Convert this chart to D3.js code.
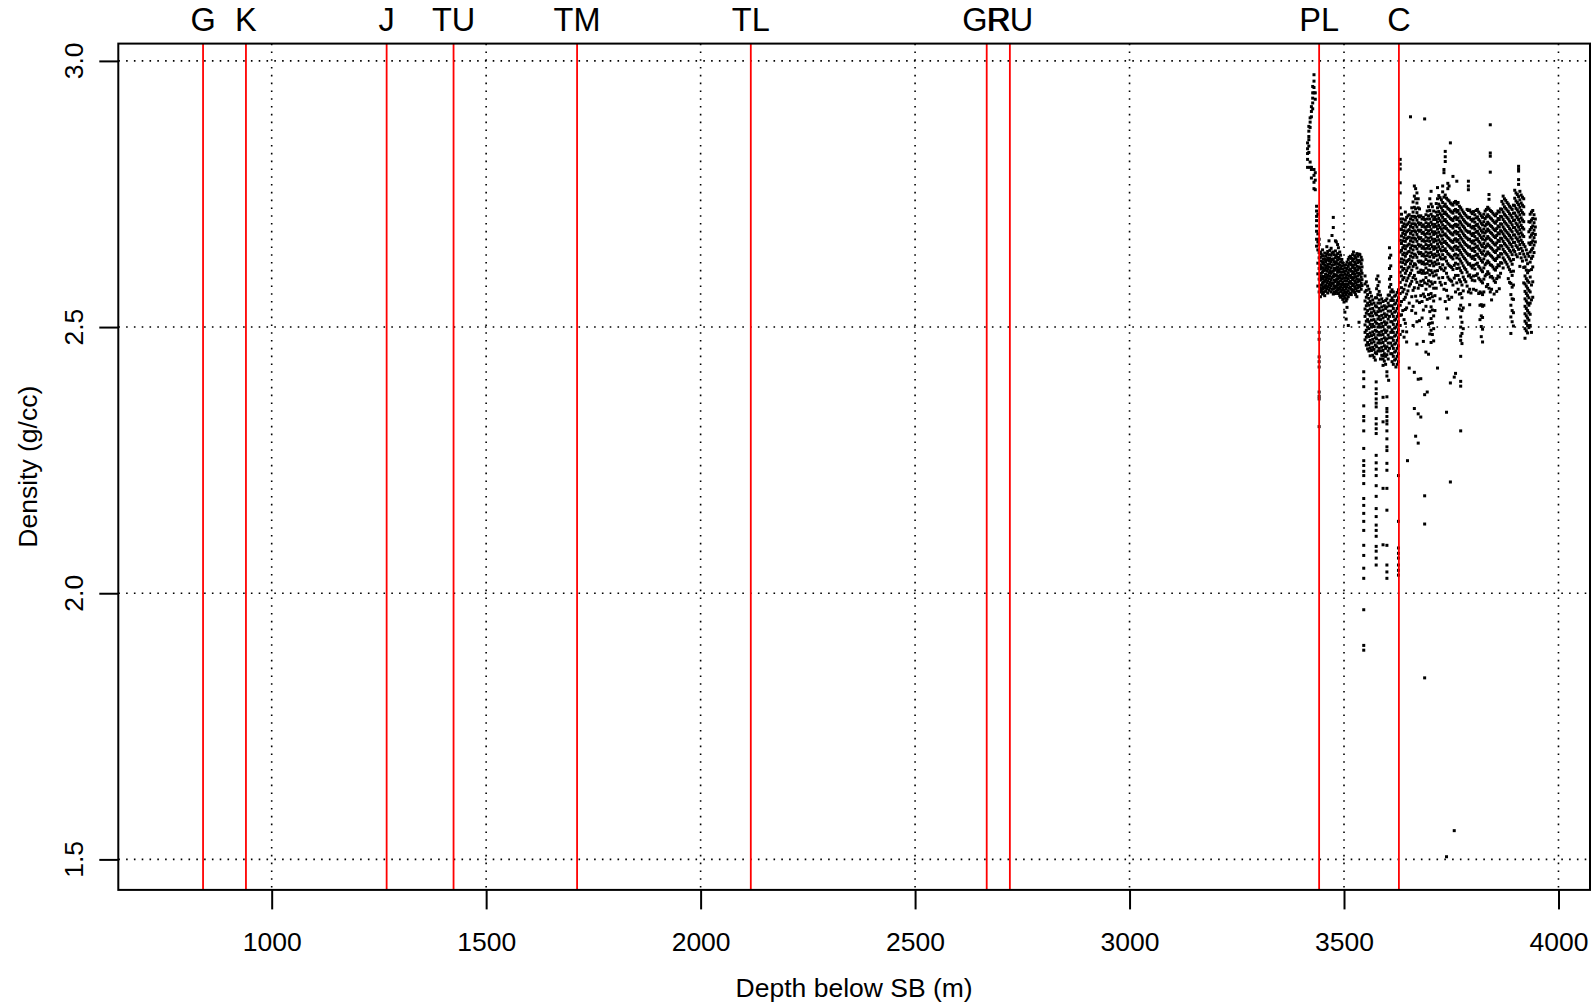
<!DOCTYPE html>
<html><head><meta charset="utf-8">
<script src="https://cdn.jsdelivr.net/npm/d3@7"></script>
<style>html,body{margin:0;padding:0;background:#fff}svg{display:block}text{font-family:"Liberation Sans",Arial,Helvetica,sans-serif;fill:#000}</style>
</head><body><svg id="chart" width="1591" height="1007"></svg>
<script>
// Formation tops (depth below SB, m)
const tops = ["G","K","J","TU","TM","TL","GR","RU","PL","C"];
const topDepths = [840, 940, 1268, 1424, 1712, 2117, 2667, 2721, 3442, 3628];
const xTicks = [1000,1500,2000,2500,3000,3500,4000];
const yTicks = [1.5,2.0,2.5,3.0];
const xLabel = "Depth below SB (m)";
const yLabel = "Density (g/cc)";

// Density log samples: each row = [depth, density, density, ...]
const plUpper = [
 [3415, 2.846, 2.835, 2.826, 2.815, 2.80],
 [3418, 2.877, 2.868, 2.858, 2.852, 2.84, 2.828],
 [3421, 2.893, 2.885, 2.875, 2.81, 2.80],
 [3424, 2.914, 2.905, 2.895, 2.80, 2.796, 2.78],
 [3427, 2.952, 2.94, 2.93, 2.921, 2.91],
 [3430, 2.974, 2.962, 2.95, 2.94, 2.796, 2.785, 2.772, 2.76],
 [3433, 2.94, 2.928, 2.79, 2.776, 2.758],
 [3436, 2.727, 2.718, 2.708, 2.70, 2.69, 2.68, 2.665, 2.652],
 [3439, 2.712, 2.675, 2.66, 2.645, 2.62, 2.60, 2.577],
 [3442, 2.665, 2.655, 2.64, 2.63, 2.61, 2.59, 2.566, 2.49, 2.477, 2.444, 2.435, 2.425, 2.378, 2.37, 2.365, 2.313]
];
const plBand = [
 [3445, 2.641, 2.631, 2.617, 2.609, 2.596, 2.588, 2.574, 2.566, 2.557],
 [3447, 2.637, 2.624, 2.613, 2.601, 2.592, 2.579, 2.569],
 [3450, 2.645, 2.634, 2.622, 2.611, 2.603, 2.59, 2.582, 2.571, 2.562],
 [3452, 2.628, 2.619, 2.606, 2.595, 2.584, 2.576, 2.565],
 [3455, 2.639, 2.627, 2.616, 2.607, 2.594, 2.586, 2.573, 2.559],
 [3457, 2.633, 2.622, 2.611, 2.599, 2.589, 2.578, 2.567],
 [3460, 2.651, 2.637, 2.626, 2.614, 2.605, 2.593, 2.583, 2.572],
 [3462, 2.642, 2.63, 2.618, 2.609, 2.597, 2.587, 2.576, 2.564],
 [3465, 2.662, 2.636, 2.625, 2.613, 2.602, 2.591, 2.58, 2.569],
 [3467, 2.644, 2.629, 2.619, 2.606, 2.596, 2.584, 2.574],
 [3470, 2.648, 2.635, 2.623, 2.611, 2.601, 2.589, 2.578, 2.566],
 [3472, 2.672, 2.639, 2.627, 2.616, 2.604, 2.593, 2.583, 2.571],
 [3475, 2.706, 2.687, 2.641, 2.628, 2.617, 2.605, 2.595, 2.582, 2.572, 2.562],
 [3477, 2.636, 2.623, 2.61, 2.599, 2.588, 2.577, 2.566],
 [3480, 2.662, 2.643, 2.63, 2.618, 2.607, 2.596, 2.585, 2.573, 2.563],
 [3482, 2.66, 2.634, 2.622, 2.611, 2.598, 2.589, 2.577, 2.567],
 [3485, 2.655, 2.638, 2.626, 2.613, 2.603, 2.591, 2.58, 2.569],
 [3487, 2.649, 2.631, 2.619, 2.608, 2.596, 2.585, 2.574, 2.563],
 [3490, 2.641, 2.628, 2.616, 2.604, 2.593, 2.581, 2.571, 2.559],
 [3492, 2.635, 2.622, 2.61, 2.598, 2.587, 2.576, 2.566, 2.556],
 [3495, 2.627, 2.615, 2.603, 2.591, 2.58, 2.569, 2.558],
 [3497, 2.621, 2.609, 2.597, 2.585, 2.574, 2.563, 2.552],
 [3500, 2.616, 2.604, 2.592, 2.58, 2.569, 2.558, 2.547],
 [3502, 2.611, 2.599, 2.587, 2.576, 2.565, 2.554, 2.528],
 [3505, 2.617, 2.605, 2.593, 2.581, 2.571, 2.56, 2.549, 2.515],
 [3507, 2.622, 2.61, 2.598, 2.587, 2.576, 2.565, 2.553, 2.537],
 [3510, 2.627, 2.614, 2.602, 2.591, 2.58, 2.568, 2.557, 2.503],
 [3512, 2.631, 2.619, 2.607, 2.596, 2.584, 2.573, 2.562],
 [3515, 2.633, 2.621, 2.609, 2.597, 2.586, 2.575, 2.564],
 [3517, 2.629, 2.617, 2.605, 2.593, 2.582, 2.571, 2.561],
 [3520, 2.636, 2.624, 2.612, 2.60, 2.589, 2.578, 2.567],
 [3522, 2.641, 2.628, 2.616, 2.604, 2.593, 2.581, 2.57],
 [3525, 2.634, 2.622, 2.61, 2.599, 2.587, 2.576, 2.565],
 [3527, 2.63, 2.618, 2.606, 2.594, 2.583, 2.572, 2.561],
 [3530, 2.638, 2.626, 2.614, 2.602, 2.59, 2.579, 2.568, 2.557],
 [3532, 2.633, 2.621, 2.608, 2.596, 2.585, 2.574],
 [3535, 2.637, 2.625, 2.613, 2.601, 2.589, 2.578, 2.567, 2.509],
 [3537, 2.636, 2.623, 2.611, 2.599, 2.587, 2.576],
 [3540, 2.631, 2.619, 2.606, 2.594, 2.582, 2.571],
 [3542, 2.626, 2.613, 2.601, 2.589, 2.578]
];
const cBand = [
 [3549, 2.596, 2.581, 2.566, 2.549, 2.534, 2.52, 2.504, 2.49, 2.476],
 [3552, 2.585, 2.569, 2.556, 2.54, 2.526, 2.511, 2.494, 2.481, 2.466],
 [3555, 2.577, 2.561, 2.545, 2.531, 2.514, 2.50, 2.486, 2.471, 2.459],
 [3558, 2.571, 2.554, 2.541, 2.524, 2.51, 2.497, 2.482, 2.467, 2.455],
 [3561, 2.565, 2.548, 2.534, 2.521, 2.505, 2.489, 2.475, 2.461, 2.446],
 [3564, 2.558, 2.543, 2.527, 2.513, 2.50, 2.484, 2.47, 2.456],
 [3567, 2.551, 2.535, 2.521, 2.505, 2.491, 2.477, 2.462, 2.447],
 [3570, 2.545, 2.53, 2.514, 2.501, 2.486, 2.472, 2.458, 2.443],
 [3573, 2.555, 2.54, 2.526, 2.51, 2.494, 2.48, 2.466, 2.452, 2.438],
 [3576, 2.59, 2.572, 2.555, 2.538, 2.523, 2.507, 2.492, 2.478, 2.463, 2.45],
 [3579, 2.596, 2.578, 2.561, 2.545, 2.529, 2.515, 2.50, 2.485, 2.47, 2.455],
 [3582, 2.585, 2.567, 2.551, 2.535, 2.52, 2.505, 2.49, 2.475, 2.46],
 [3585, 2.56, 2.545, 2.53, 2.514, 2.50, 2.485, 2.47, 2.455, 2.44],
 [3588, 2.553, 2.538, 2.522, 2.507, 2.492, 2.477, 2.462, 2.447],
 [3591, 2.548, 2.532, 2.517, 2.501, 2.486, 2.471, 2.456, 2.44],
 [3594, 2.54, 2.525, 2.51, 2.495, 2.48, 2.465, 2.45, 2.436],
 [3597, 2.55, 2.535, 2.52, 2.505, 2.49, 2.475, 2.46, 2.445, 2.43],
 [3600, 2.553, 2.538, 2.523, 2.508, 2.493, 2.478, 2.463, 2.448],
 [3603, 2.56, 2.545, 2.53, 2.515, 2.50, 2.485, 2.47, 2.455, 2.44],
 [3606, 2.649, 2.63, 2.61, 2.59, 2.575, 2.56, 2.54, 2.52, 2.50, 2.48, 2.46],
 [3609, 2.635, 2.615, 2.595, 2.58, 2.566, 2.55, 2.53, 2.51, 2.49, 2.47, 2.45],
 [3612, 2.57, 2.555, 2.54, 2.525, 2.51, 2.495, 2.48, 2.465, 2.45, 2.435],
 [3615, 2.566, 2.55, 2.535, 2.52, 2.505, 2.49, 2.475, 2.46, 2.445, 2.43],
 [3618, 2.558, 2.543, 2.528, 2.513, 2.498, 2.483, 2.468, 2.453, 2.438],
 [3621, 2.56, 2.545, 2.53, 2.515, 2.50, 2.485, 2.47, 2.455, 2.44, 2.425],
 [3624, 2.565, 2.55, 2.535, 2.52, 2.505, 2.49, 2.475, 2.46, 2.445, 2.43],
 [3627, 2.57, 2.555, 2.54, 2.525, 2.51, 2.495, 2.48, 2.465, 2.45, 2.435]
];
const lowTails = [
 [3546, 2.416, 2.403, 2.388, 2.352, 2.332, 2.324, 2.305, 2.272, 2.249, 2.24, 2.229, 2.221, 2.206, 2.178, 2.165, 2.15, 2.135, 2.118, 2.09, 2.071, 2.047, 2.028, 1.969, 1.902, 1.893],
 [3575, 2.397, 2.384, 2.375, 2.365, 2.357, 2.35, 2.328, 2.318, 2.309, 2.30, 2.259, 2.245, 2.233, 2.221, 2.202, 2.182, 2.159, 2.144, 2.128, 2.118, 2.107, 2.088, 2.079, 2.066, 2.053],
 [3600, 2.416, 2.408, 2.369, 2.347, 2.341, 2.332, 2.324, 2.318, 2.305, 2.29, 2.275, 2.268, 2.244, 2.231, 2.197, 2.156, 2.09, 2.053, 2.04, 2.028],
 [3627, 2.221, 2.135, 2.085, 2.075, 2.066, 2.053, 2.043, 2.034],
 [3591, 2.446, 2.428, 2.368, 2.322, 2.197, 2.091],
 [3604, 2.40]
];
const postCA = [
 [3631, 2.815, 2.806, 2.797, 2.771, 2.752, 2.724, 2.703, 2.684, 2.663, 2.641, 2.622, 2.603, 2.584, 2.563, 2.541, 2.522, 2.503, 2.486],
 [3634, 2.712, 2.697, 2.683, 2.671, 2.657, 2.644, 2.628, 2.613, 2.596, 2.574, 2.548, 2.523],
 [3637, 2.703, 2.689, 2.676, 2.662, 2.649, 2.636, 2.621, 2.607, 2.589, 2.566, 2.531, 2.492],
 [3640, 2.694, 2.681, 2.668, 2.653, 2.639, 2.626, 2.61, 2.593, 2.571, 2.552, 2.514, 2.481],
 [3643, 2.716, 2.701, 2.688, 2.674, 2.661, 2.647, 2.633, 2.618, 2.601, 2.579, 2.556, 2.533, 2.507],
 [3646, 2.706, 2.692, 2.679, 2.666, 2.652, 2.638, 2.623, 2.606, 2.587, 2.562, 2.536, 2.491, 2.472],
 [3648, 2.249],
 [3649, 2.709, 2.694, 2.681, 2.668, 2.654, 2.641, 2.625, 2.611, 2.592, 2.568],
 [3652, 2.711, 2.697, 2.683, 2.669, 2.656, 2.642, 2.627, 2.613, 2.597, 2.577, 2.545, 2.423],
 [3655, 2.895, 2.703, 2.689, 2.676, 2.662, 2.648, 2.633, 2.619, 2.601, 2.581],
 [3658, 2.724, 2.708, 2.694, 2.68, 2.667, 2.653, 2.639, 2.624, 2.607, 2.586, 2.557, 2.531],
 [3661, 2.735, 2.716, 2.701, 2.687, 2.673, 2.66, 2.645, 2.631, 2.614, 2.593, 2.569, 2.539, 2.503],
 [3664, 2.765, 2.746, 2.725, 2.708, 2.694, 2.681, 2.667, 2.652, 2.637, 2.619, 2.597, 2.574, 2.415, 2.347],
 [3667, 2.76, 2.741, 2.722, 2.706, 2.692, 2.679, 2.665, 2.651, 2.635, 2.617, 2.59, 2.558, 2.526, 2.295],
 [3670, 2.752, 2.733, 2.715, 2.701, 2.688, 2.674, 2.661, 2.647, 2.631, 2.611, 2.584, 2.549, 2.51, 2.468],
 [3673, 2.741, 2.724, 2.709, 2.696, 2.682, 2.669, 2.655, 2.641, 2.624, 2.603, 2.573, 2.402, 2.337, 2.282],
 [3676, 2.722, 2.707, 2.693, 2.68, 2.666, 2.652, 2.638, 2.622, 2.603, 2.579, 2.546, 2.512],
 [3679, 2.709, 2.695, 2.682, 2.668, 2.654, 2.64, 2.624, 2.607, 2.586, 2.559, 2.403, 2.331],
 [3682, 2.703, 2.689, 2.676, 2.662, 2.648, 2.634, 2.619, 2.601, 2.578, 2.548, 2.517],
 [3685, 2.706, 2.692, 2.678, 2.664, 2.651, 2.637, 2.622, 2.606, 2.588, 2.562, 2.532, 2.473],
 [3688, 2.891, 2.702, 2.688, 2.674, 2.661, 2.647, 2.633, 2.618, 2.601, 2.583, 2.557, 2.373, 2.183, 2.13, 1.841],
 [3691, 2.711, 2.696, 2.683, 2.669, 2.655, 2.641, 2.627, 2.611, 2.593, 2.571, 2.539, 2.453],
 [3694, 2.718, 2.703, 2.689, 2.676, 2.662, 2.648, 2.634, 2.619, 2.602, 2.581, 2.552, 2.378],
 [3697, 2.726, 2.709, 2.694, 2.681, 2.667, 2.653, 2.639, 2.624, 2.607, 2.587, 2.561, 2.505, 2.449],
 [3700, 2.741, 2.719, 2.703, 2.689, 2.675, 2.661, 2.647, 2.632, 2.616, 2.598, 2.577, 2.554, 2.529, 2.507, 2.487],
 [3703, 2.755, 2.731, 2.712, 2.697, 2.683, 2.669, 2.655, 2.64, 2.624, 2.606, 2.585, 2.563, 2.538, 2.516, 2.494, 2.471],
 [3706, 2.726, 2.708, 2.693, 2.679, 2.665, 2.651, 2.636, 2.62, 2.602, 2.581, 2.557, 2.532, 2.508, 2.486],
 [3709, 2.718, 2.702, 2.688, 2.674, 2.66, 2.646, 2.631, 2.615, 2.596, 2.573, 2.549, 2.521, 2.497, 2.474],
 [3712, 2.707, 2.693, 2.679, 2.665, 2.651, 2.637, 2.622, 2.605, 2.584, 2.559, 2.531]
];
const postCB = [
 [3715, 2.732, 2.716, 2.702, 2.689, 2.676, 2.662, 2.648, 2.634, 2.618, 2.598, 2.573],
 [3718, 2.762, 2.741, 2.724, 2.71, 2.697, 2.684, 2.67, 2.656, 2.642, 2.626, 2.606, 2.423],
 [3721, 2.747, 2.731, 2.717, 2.704, 2.691, 2.678, 2.664, 2.651, 2.636, 2.619, 2.592],
 [3724, 2.743, 2.727, 2.713, 2.70, 2.687, 2.673, 2.66, 2.646, 2.631, 2.612, 2.584, 2.553],
 [3727, 2.739, 2.724, 2.71, 2.697, 2.684, 2.671, 2.657, 2.643, 2.628, 2.609, 2.579],
 [3730, 2.765, 2.754, 2.734, 2.719, 2.706, 2.692, 2.679, 2.665, 2.651, 2.636, 2.617, 2.593],
 [3733, 2.796, 2.79, 2.744, 2.727, 2.713, 2.70, 2.686, 2.673, 2.659, 2.644, 2.628, 2.606, 2.571],
 [3736, 2.83, 2.82, 2.811, 2.748, 2.731, 2.716, 2.702, 2.689, 2.675, 2.661, 2.647, 2.631, 2.611, 2.582, 2.548],
 [3739, 2.742, 2.726, 2.712, 2.698, 2.685, 2.671, 2.657, 2.642, 2.624, 2.601, 2.569, 2.534, 2.34, 1.505],
 [3742, 2.77, 2.76, 2.739, 2.723, 2.709, 2.695, 2.682, 2.668, 2.654, 2.638, 2.619, 2.594, 2.558, 2.517],
 [3745, 2.765, 2.737, 2.721, 2.707, 2.693, 2.68, 2.666, 2.652, 2.636, 2.616, 2.59, 2.552],
 [3748, 2.846, 2.733, 2.718, 2.704, 2.69, 2.677, 2.663, 2.649, 2.633, 2.614, 2.588, 2.395, 2.209],
 [3751, 2.731, 2.716, 2.702, 2.689, 2.675, 2.661, 2.647, 2.631, 2.612, 2.586, 2.556],
 [3754, 2.783, 2.729, 2.714, 2.70, 2.686, 2.673, 2.659, 2.644, 2.628, 2.608, 2.579],
 [3757, 2.734, 2.719, 2.705, 2.691, 2.678, 2.664, 2.65, 2.635, 2.616, 2.592, 2.406, 1.554],
 [3760, 2.736, 2.721, 2.707, 2.693, 2.68, 2.666, 2.652, 2.637, 2.62, 2.597, 2.566, 2.413],
 [3763, 2.774, 2.731, 2.716, 2.702, 2.689, 2.675, 2.661, 2.646, 2.63, 2.61, 2.583],
 [3766, 2.734, 2.719, 2.705, 2.692, 2.678, 2.664, 2.65, 2.635, 2.618, 2.597, 2.571],
 [3769, 2.727, 2.713, 2.699, 2.686, 2.672, 2.658, 2.644, 2.628, 2.611, 2.589, 2.562, 2.534],
 [3772, 2.724, 2.709, 2.696, 2.682, 2.668, 2.654, 2.64, 2.624, 2.606, 2.585, 2.563, 2.541, 2.519, 2.50, 2.483, 2.475, 2.445, 2.398, 2.389, 2.305],
 [3775, 2.72, 2.706, 2.692, 2.679, 2.665, 2.651, 2.636, 2.62, 2.602, 2.579, 2.555, 2.531, 2.509, 2.488, 2.469],
 [3778, 2.716, 2.702, 2.689, 2.675, 2.661, 2.647, 2.632, 2.615, 2.594, 2.568, 2.536, 2.497],
 [3781, 2.713, 2.699, 2.686, 2.672, 2.658, 2.644, 2.629, 2.611, 2.589],
 [3784, 2.71, 2.696, 2.682, 2.669, 2.655, 2.641, 2.626, 2.608, 2.585],
 [3787, 2.721, 2.707, 2.694, 2.68, 2.667, 2.653, 2.638, 2.622, 2.603, 2.577],
 [3790, 2.774, 2.765, 2.758, 2.719, 2.705, 2.691, 2.678, 2.664, 2.65, 2.635, 2.618, 2.596, 2.566],
 [3793, 2.72, 2.706, 2.692, 2.679, 2.665, 2.651, 2.636, 2.619, 2.598, 2.571, 2.542],
 [3796, 2.716, 2.702, 2.688, 2.675, 2.661, 2.647, 2.632, 2.615, 2.593, 2.564],
 [3799, 2.713, 2.699, 2.686, 2.672, 2.658, 2.644, 2.629, 2.611, 2.588],
 [3802, 2.717, 2.703, 2.689, 2.676, 2.662, 2.648, 2.633, 2.616, 2.596, 2.571],
 [3805, 2.711, 2.697, 2.684, 2.67, 2.656, 2.642, 2.627, 2.609, 2.587],
 [3808, 2.719, 2.705, 2.691, 2.678, 2.664, 2.65, 2.635, 2.618, 2.597, 2.569],
 [3811, 2.721, 2.707, 2.693, 2.68, 2.666, 2.652, 2.637, 2.62, 2.60],
 [3814, 2.716, 2.702, 2.688, 2.675, 2.661, 2.647, 2.632, 2.614, 2.592, 2.563],
 [3817, 2.713, 2.699, 2.685, 2.672, 2.658, 2.644, 2.629, 2.611, 2.589, 2.566, 2.541, 2.514],
 [3820, 2.709, 2.695, 2.681, 2.668, 2.654, 2.64, 2.625, 2.607, 2.586, 2.564, 2.542, 2.521, 2.501, 2.482],
 [3823, 2.706, 2.692, 2.678, 2.665, 2.651, 2.637, 2.622, 2.604, 2.583, 2.561, 2.539, 2.518, 2.496, 2.472],
 [3826, 2.712, 2.698, 2.684, 2.671, 2.657, 2.643, 2.628, 2.611, 2.59, 2.566, 2.541],
 [3829, 2.718, 2.704, 2.69, 2.677, 2.663, 2.649, 2.634, 2.617, 2.596]
];
const postCC = [
 [3832, 2.721, 2.707, 2.693, 2.68, 2.666, 2.652, 2.637, 2.62, 2.599, 2.576],
 [3835, 2.725, 2.711, 2.697, 2.684, 2.67, 2.656, 2.641, 2.624, 2.604, 2.58],
 [3838, 2.749, 2.74, 2.722, 2.708, 2.694, 2.681, 2.667, 2.653, 2.638, 2.621, 2.60, 2.573],
 [3841, 2.88, 2.827, 2.821, 2.791, 2.719, 2.705, 2.691, 2.678, 2.664, 2.65, 2.635, 2.617, 2.594, 2.566],
 [3844, 2.717, 2.703, 2.689, 2.676, 2.662, 2.648, 2.633, 2.616, 2.595, 2.571, 2.551],
 [3847, 2.714, 2.70, 2.686, 2.673, 2.659, 2.645, 2.63, 2.613, 2.592],
 [3850, 2.711, 2.697, 2.683, 2.67, 2.656, 2.642, 2.627, 2.609, 2.587, 2.562],
 [3853, 2.709, 2.695, 2.681, 2.668, 2.654, 2.64, 2.625, 2.607, 2.584],
 [3856, 2.713, 2.699, 2.685, 2.672, 2.658, 2.644, 2.629, 2.612, 2.591, 2.567],
 [3859, 2.718, 2.704, 2.69, 2.677, 2.663, 2.649, 2.634, 2.617, 2.596],
 [3862, 2.716, 2.702, 2.688, 2.675, 2.661, 2.647, 2.632, 2.615, 2.594, 2.572],
 [3865, 2.722, 2.708, 2.694, 2.681, 2.667, 2.653, 2.638, 2.621, 2.601],
 [3868, 2.736, 2.721, 2.707, 2.693, 2.679, 2.666, 2.652, 2.637, 2.62],
 [3871, 2.746, 2.731, 2.716, 2.702, 2.688, 2.675, 2.661, 2.646, 2.63, 2.611],
 [3874, 2.741, 2.726, 2.712, 2.698, 2.684, 2.671, 2.657, 2.642, 2.626],
 [3877, 2.738, 2.723, 2.709, 2.695, 2.681, 2.668, 2.654, 2.639, 2.622],
 [3880, 2.734, 2.72, 2.706, 2.692, 2.678, 2.665, 2.651, 2.636, 2.618],
 [3883, 2.731, 2.717, 2.703, 2.689, 2.675, 2.662, 2.648, 2.632, 2.613, 2.591],
 [3886, 2.727, 2.713, 2.699, 2.685, 2.672, 2.658, 2.644, 2.628, 2.608, 2.584],
 [3889, 2.724, 2.71, 2.696, 2.682, 2.668, 2.655, 2.641, 2.624, 2.604, 2.582, 2.561, 2.541, 2.519, 2.488],
 [3892, 2.721, 2.706, 2.692, 2.679, 2.665, 2.651, 2.636, 2.618, 2.597, 2.575, 2.553, 2.531, 2.51],
 [3895, 2.729, 2.714, 2.70, 2.687, 2.673, 2.659, 2.645, 2.627, 2.605, 2.579, 2.552, 2.527, 2.502],
 [3898, 2.757, 2.742, 2.728, 2.714, 2.701, 2.687, 2.673, 2.659, 2.642],
 [3901, 2.752, 2.737, 2.723, 2.709, 2.695, 2.682, 2.668, 2.653, 2.636],
 [3904, 2.749, 2.734, 2.72, 2.706, 2.692, 2.679, 2.665, 2.65, 2.632],
 [3907, 2.802, 2.797, 2.793, 2.777, 2.768, 2.745, 2.73, 2.716, 2.702, 2.688, 2.675, 2.661, 2.646],
 [3910, 2.755, 2.739, 2.725, 2.711, 2.697, 2.683, 2.669, 2.655, 2.638, 2.614],
 [3913, 2.748, 2.733, 2.719, 2.705, 2.691, 2.677, 2.663, 2.648, 2.63],
 [3916, 2.744, 2.729, 2.715, 2.701, 2.687, 2.673, 2.659, 2.643, 2.624],
 [3919, 2.741, 2.726, 2.712, 2.698, 2.684, 2.67, 2.655, 2.637, 2.612, 2.583],
 [3922, 2.651, 2.632, 2.613, 2.596, 2.581, 2.567, 2.553, 2.539, 2.525, 2.511, 2.497, 2.479],
 [3925, 2.645, 2.626, 2.607, 2.591, 2.577, 2.563, 2.549, 2.535, 2.521, 2.507, 2.493],
 [3928, 2.638, 2.619, 2.602, 2.587, 2.573, 2.559, 2.545, 2.531, 2.517, 2.503, 2.489],
 [3931, 2.698, 2.679, 2.658, 2.633, 2.606, 2.584, 2.569, 2.555, 2.541, 2.527, 2.513, 2.499],
 [3934, 2.712, 2.697, 2.683, 2.669, 2.655, 2.641, 2.622, 2.594, 2.566, 2.545, 2.524, 2.503],
 [3937, 2.716, 2.701, 2.687, 2.673, 2.659, 2.645, 2.629, 2.608, 2.579, 2.551, 2.49],
 [3940, 2.719, 2.704, 2.69, 2.676, 2.662, 2.648, 2.633, 2.613, 2.585, 2.556],
 [3943, 2.711, 2.696, 2.682, 2.668, 2.654, 2.64],
 [3946, 2.703, 2.688, 2.674, 2.66]
];

// ---------- drawing ----------
const svg = d3.select("#chart");
const L = 118.3, R = 1590, T = 43.6, B = 889.9;
const x = d3.scaleLinear().domain([642.4, 4073.5]).range([L, R]);
const y = d3.scaleLinear().domain([1.4427, 3.0325]).range([B, T]);

svg.append("defs").append("clipPath").attr("id","clip")
  .append("rect").attr("x",L).attr("y",T).attr("width",R-L).attr("height",B-T);

const plot = svg.append("g").attr("clip-path","url(#clip)");

// dotted grid
plot.selectAll("line.gx").data(xTicks).join("line")
  .attr("x1",d=>x(d)).attr("x2",d=>x(d)).attr("y1",T).attr("y2",B)
  .attr("stroke","#000").attr("stroke-width",1.6).attr("stroke-dasharray","1.6 6.2");
plot.selectAll("line.gy").data(yTicks).join("line")
  .attr("y1",d=>y(d)).attr("y2",d=>y(d)).attr("x1",L).attr("x2",R)
  .attr("stroke","#000").attr("stroke-width",1.6).attr("stroke-dasharray","1.6 6.2");

// points
const pts = [];
[plUpper, plBand, cBand, lowTails, postCA, postCB, postCC].forEach(arr =>
  arr.forEach(row => row.slice(1).forEach(v => pts.push([row[0], v]))));
const s = 3;
plot.selectAll("rect.pt").data(pts).join("rect")
  .attr("x",d=>x(d[0])-s/2).attr("y",d=>y(d[1])-s/2)
  .attr("width",s).attr("height",s).attr("fill","#000");

// formation tops
plot.selectAll("line.top").data(topDepths).join("line")
  .attr("x1",d=>x(d)).attr("x2",d=>x(d)).attr("y1",T).attr("y2",B)
  .attr("stroke","#ff0000").attr("stroke-width",1.8);
svg.selectAll("text.top").data(tops).join("text")
  .attr("x",(d,i)=>x(topDepths[i])).attr("y",31)
  .attr("text-anchor","middle").attr("font-size",32.5).text(d=>d);

// box
svg.append("rect").attr("x",L).attr("y",T).attr("width",R-L).attr("height",B-T)
  .attr("fill","none").attr("stroke","#000").attr("stroke-width",2);

// axes
const xAxis = d3.axisBottom(x).tickValues(xTicks).tickSize(19.5).tickPadding(23).tickFormat(d3.format("d"));
const gx = svg.append("g").attr("transform",`translate(0,${B})`).call(xAxis);
gx.select(".domain").remove();
gx.selectAll("line").attr("stroke","#000").attr("stroke-width",2);
gx.selectAll("text").attr("font-size",26.5).attr("font-family","Liberation Sans, Arial, sans-serif").attr("fill","#000");

const yAxis = d3.axisLeft(y).tickValues(yTicks).tickSize(19).tickFormat(d3.format(".1f"));
const gy = svg.append("g").attr("transform",`translate(${L},0)`).call(yAxis);
gy.select(".domain").remove();
gy.selectAll("line").attr("stroke","#000").attr("stroke-width",2);
gy.selectAll("text").remove();
svg.selectAll("text.ytl").data(yTicks).join("text")
  .attr("transform",d=>`translate(83,${y(d)}) rotate(-90)`)
  .attr("text-anchor","middle").attr("font-size",26.5).text(d=>d3.format(".1f")(d));

// titles
svg.append("text").attr("x",(L+R)/2).attr("y",997).attr("text-anchor","middle")
  .attr("font-size",26.5).text(xLabel);
svg.append("text").attr("transform",`translate(36.5,${(T+B)/2}) rotate(-90)`)
  .attr("text-anchor","middle").attr("font-size",26.5).text(yLabel);
</script></body></html>
